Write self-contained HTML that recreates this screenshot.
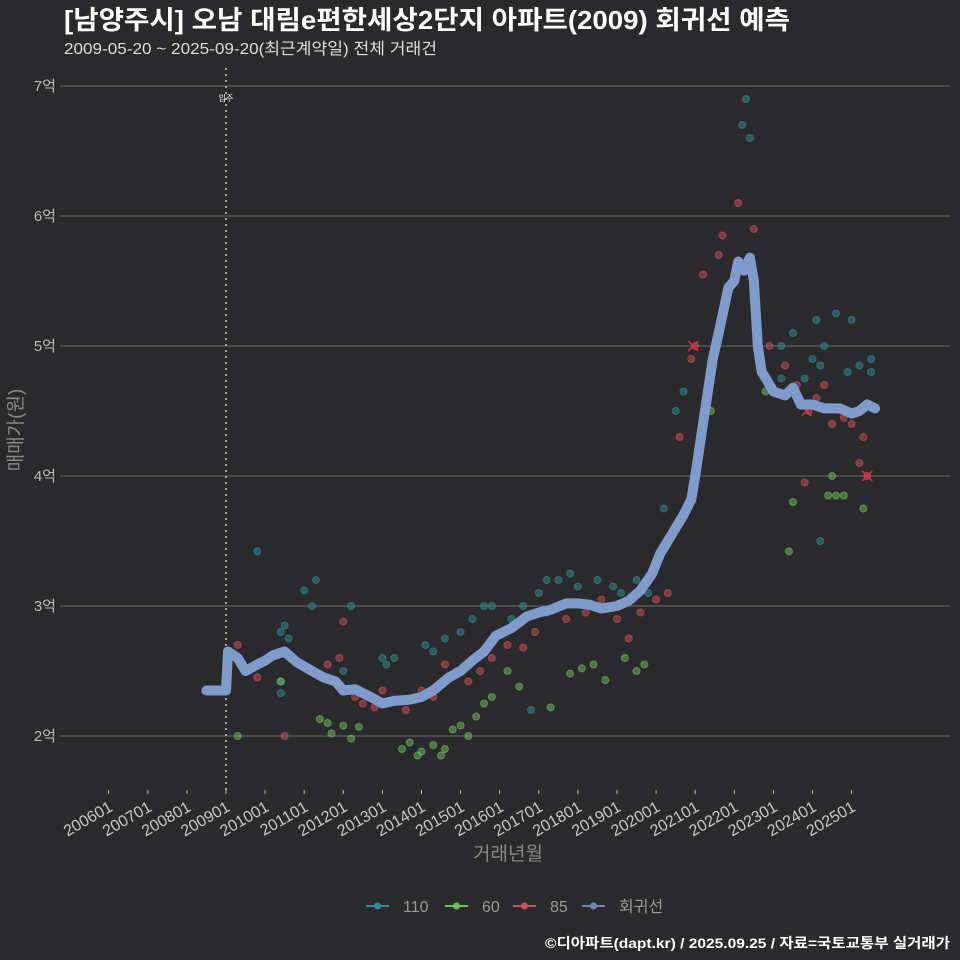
<!DOCTYPE html>
<html><head><meta charset="utf-8"><style>
html,body{margin:0;padding:0;background:#2a292b;}
svg{display:block;font-family:"Liberation Sans","Noto Sans CJK KR",sans-serif;}
</style></head><body>
<svg id="c" width="960" height="960" viewBox="0 0 960 960">
<rect width="960" height="960" fill="#2a292b"/>
<text x="64" y="29" font-size="26" font-weight="bold" fill="#ffffff" textLength="726" lengthAdjust="spacingAndGlyphs">[남양주시] 오남 대림e편한세상2단지 아파트(2009) 회귀선 예측</text>
<text x="64" y="54" font-size="16" fill="#dddddd" textLength="373" lengthAdjust="spacingAndGlyphs">2009-05-20 ~ 2025-09-20(최근계약일) 전체 거래건</text>
<g id="grid"></g><g id="pts"></g><g id="line"></g><g id="axes"></g>
<text transform="translate(22,430) rotate(-90)" text-anchor="middle" font-size="19" fill="#888">매매가(원)</text>
<text x="508" y="860" text-anchor="middle" font-size="19" fill="#888">거래년월</text>
<g id="legend"></g>
<text x="950" y="948" text-anchor="end" font-size="14" font-weight="bold" fill="#ffffff" textLength="405" lengthAdjust="spacingAndGlyphs">©디아파트(dapt.kr) / 2025.09.25 / 자료=국토교통부 실거래가</text>
</svg>
<script>
const yTicks=[2,3,4,5,6,7];
const yTickLabels=["2억","3억","4억","5억","6억","7억"];
const xTicks=[2006,2007,2008,2009,2010,2011,2012,2013,2014,2015,2016,2017,2018,2019,2020,2021,2022,2023,2024,2025];
const xTickLabels=["200601","200701","200801","200901","201001","201101","201201","201301","201401","201501","201601","201701","201801","201901","202001","202101","202201","202301","202401","202501"];
const regT=[2008.5,2009.0,2009.05,2009.3,2009.5,2009.8,2010.0,2010.2,2010.5,2010.8,2011.2,2011.5,2011.8,2012.0,2012.3,2012.7,2013.0,2013.3,2013.7,2014.0,2014.3,2014.7,2015.0,2015.3,2015.6,2015.9,2016.3,2016.7,2017.0,2017.3,2017.7,2018.0,2018.3,2018.6,2019.0,2019.3,2019.6,2019.9,2020.1,2020.4,2020.7,2020.9,2021.0,2021.2,2021.45,2021.6,2021.85,2022.0,2022.1,2022.25,2022.4,2022.5,2022.6,2022.7,2022.85,2023.0,2023.3,2023.5,2023.7,2024.0,2024.3,2024.7,2025.0,2025.2,2025.4,2025.6];
const regV=[2.35,2.35,2.65,2.6,2.5,2.55,2.58,2.62,2.65,2.57,2.5,2.45,2.42,2.35,2.36,2.3,2.25,2.27,2.28,2.3,2.35,2.45,2.5,2.58,2.65,2.77,2.83,2.92,2.95,2.97,3.02,3.02,3.01,2.98,3.0,3.04,3.12,3.25,3.4,3.55,3.7,3.82,4.0,4.4,4.9,5.1,5.45,5.5,5.65,5.58,5.68,5.5,5.0,4.8,4.73,4.65,4.62,4.68,4.55,4.55,4.52,4.52,4.48,4.5,4.55,4.52];
const s110T=[2009.8,2010.4,2010.5,2010.6,2010.4,2010.4,2011.2,2011.3,2011.0,2012.0,2012.2,2013.0,2013.1,2013.3,2014.1,2014.3,2014.6,2015.0,2015.3,2015.6,2015.8,2016.3,2016.6,2016.8,2017.0,2017.2,2017.5,2017.8,2018.0,2018.5,2018.9,2019.1,2019.5,2019.8,2020.0,2020.2,2020.5,2020.7,2022.3,2022.2,2022.4,2023.2,2023.5,2023.8,2024.0,2024.1,2024.3,2024.2,2024.6,2024.9,2025.0,2025.2,2025.5,2025.5,2024.2,2023.2];
const s110V=[3.42,2.8,2.85,2.75,2.42,2.33,3.0,3.2,3.12,2.5,3.0,2.6,2.55,2.6,2.7,2.65,2.75,2.8,2.9,3.0,3.0,2.9,3.0,2.2,3.1,3.2,3.2,3.25,3.15,3.2,3.15,3.1,3.2,3.1,3.3,3.75,4.5,4.65,6.9,6.7,6.6,5.0,5.1,4.75,4.9,5.2,5.0,4.85,5.25,4.8,5.2,4.85,4.9,4.8,3.5,4.75];
const s60T=[2009.3,2010.4,2011.4,2011.6,2011.7,2012.0,2012.2,2012.4,2013.5,2013.7,2013.9,2014.0,2014.3,2014.5,2014.6,2014.8,2015.0,2015.2,2015.4,2015.6,2015.8,2016.2,2016.5,2017.3,2017.8,2018.1,2018.4,2018.7,2019.2,2019.5,2019.7,2021.4,2022.8,2023.4,2023.5,2024.4,2024.5,2024.6,2024.8,2025.3];
const s60V=[2.0,2.42,2.13,2.1,2.02,2.08,1.98,2.07,1.9,1.95,1.85,1.88,1.93,1.85,1.9,2.05,2.08,2.0,2.15,2.25,2.3,2.5,2.38,2.22,2.48,2.52,2.55,2.43,2.6,2.5,2.55,4.5,4.65,3.42,3.8,3.85,4.0,3.85,3.85,3.75];
const s85T=[2009.3,2009.8,2010.5,2011.6,2011.9,2012.0,2012.3,2012.5,2012.8,2013.0,2013.3,2013.6,2014.0,2014.3,2014.6,2014.9,2015.2,2015.5,2015.8,2016.2,2016.6,2016.9,2017.2,2017.7,2018.2,2018.6,2019.0,2019.3,2019.6,2020.0,2020.3,2020.6,2020.9,2021.0,2021.2,2021.6,2021.7,2022.1,2022.5,2022.9,2023.3,2023.6,2023.9,2024.1,2024.3,2024.5,2024.8,2025.0,2025.2,2025.3,2025.4,2023.8];
const s85V=[2.7,2.45,2.0,2.55,2.6,2.88,2.3,2.25,2.22,2.35,2.28,2.2,2.35,2.3,2.55,2.5,2.42,2.5,2.6,2.7,2.68,2.8,2.95,2.9,2.95,3.05,2.9,2.75,2.95,3.05,3.1,4.3,4.9,5.0,5.55,5.7,5.85,6.1,5.9,5.0,4.85,4.7,4.5,4.6,4.7,4.4,4.45,4.4,4.1,4.3,4.0,3.95];
const xMarkT=[2020.95,2023.85,2025.4];
const xMarkV=[5.0,4.5,4.0];

const NS="http://www.w3.org/2000/svg";
function X(t){return 226+(t-2009)*39.1;}
function Y(v){return 736-(v-2)*130;}
function mk(tag,attrs,parent){const e=document.createElementNS(NS,tag);for(const k in attrs)e.setAttribute(k,attrs[k]);parent.appendChild(e);return e;}
const grid=document.getElementById('grid'),axes=document.getElementById('axes');
yTicks.forEach((v,i)=>{
  const l=mk('line',{x1:60,x2:950,y1:Y(v),y2:Y(v),stroke:'#6a6a6a','stroke-width':1},grid);
  
  
  const t=mk('text',{x:56,y:Y(v)+5,'text-anchor':'end','font-size':15,fill:'#bbbbbb'},axes);
  t.textContent=yTickLabels[i];
  
  
});
xTicks.forEach((v,i)=>{
  const x=X(v);
  const l=mk('line',{x1:x,x2:x,y1:790,y2:794,stroke:'#bbbbbb','stroke-width':1},axes);
  
  
  const t=mk('text',{transform:`translate(${x+5},${810}) rotate(-30)`,'text-anchor':'end','font-size':16,fill:'#c8c8c8'},axes);
  t.textContent=xTickLabels[i];
  
  
});
const vl=mk('line',{x1:226,x2:226,y1:68,y2:792,stroke:'#cccccc','stroke-width':1.5,'stroke-dasharray':'2,4'},grid);


const vt=mk('text',{x:226,y:101,'text-anchor':'middle','font-size':8,fill:'#ffffff'},grid);
vt.textContent='입주';


const pts=document.getElementById('pts');
function series(T,V,col,name){T.forEach((t,i)=>{
  const c=mk('circle',{cx:X(t),cy:Y(V[i]),r:3.5,fill:col,'fill-opacity':0.5,stroke:col,'stroke-opacity':0.6},pts);
  
  
});}
series(s110T,s110V,'#2f8f93','point-110');
series(s60T,s60V,'#6fc060','point-60');
series(s85T,s85V,'#d0505c','point-85');
xMarkT.forEach((t,i)=>{
  const x=X(t),y=Y(xMarkV[i]);
  const p=mk('path',{d:`M${x-5},${y-5}L${x+5},${y+5}M${x-5},${y+5}L${x+5},${y-5}`,stroke:'#e03040','stroke-width':1.5},pts);
  
  
});
const line=document.getElementById('line');
const d=regT.map((t,i)=>(i?'L':'M')+X(t).toFixed(1)+','+Y(regV[i]).toFixed(1)).join('');
const rp=mk('path',{d:d,fill:'none',stroke:'#7e9bcb','stroke-width':10,'stroke-linejoin':'round','stroke-linecap':'round'},line);


const lg=document.getElementById('legend');
const items=[['110','#2f8f93',366],['60','#6fc060',445],['85','#d0505c',513],['회귀선','#6f87b0',582]];
items.forEach(it=>{
  const g=mk('g',{},lg);
  
  
  mk('line',{x1:it[2],x2:it[2]+23,y1:906,y2:906,stroke:it[1],'stroke-width':2},g);
  mk('circle',{cx:it[2]+11.5,cy:906,r:3.5,fill:it[1]},g);
  const t=mk('text',{x:it[2]+37,y:912,'font-size':16,fill:'#999999'},g);
  t.textContent=it[0];
});
</script>
</body></html>
